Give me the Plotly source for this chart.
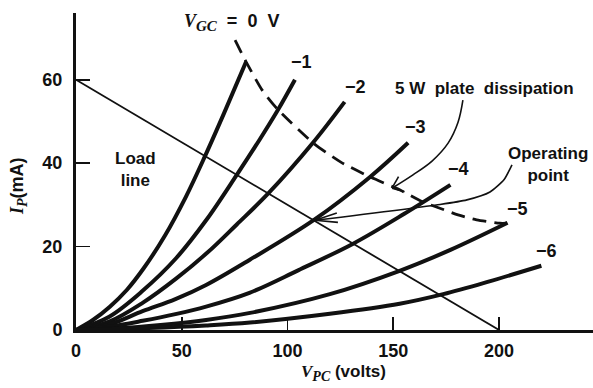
import plotly.graph_objects as go

# ---------------- data ----------------
# plate characteristic curves: plate voltage V_PC (V) -> plate current I_P (mA)
v_g0 = [0, 8, 16, 24, 32, 42, 52, 61, 70, 80.4]
i_g0 = [0, 2.4, 5.6, 9.6, 14.8, 22.6, 32.0, 41.7, 52.0, 64.3]

v_g1 = [0, 15.7, 31.5, 47.3, 61.5, 76, 87, 95.5, 103.5]
i_g1 = [0, 3.2, 9.4, 17.2, 26.3, 37.2, 45.8, 52.8, 60.0]

v_g2 = [0, 15.7, 31.5, 47.3, 62, 76, 91, 112, 127]
i_g2 = [0, 2.0, 6.5, 12.3, 18.5, 25.3, 32.8, 44.9, 54.7]

v_g3 = [0, 15.7, 31.5, 47, 61.5, 82, 112.5, 139, 157]
i_g3 = [0, 1.3, 4.5, 7.4, 10.8, 16.8, 26.4, 36.7, 44.9]

v_g4 = [0, 15.7, 31.5, 47, 61.5, 82, 105, 131, 155, 177]
i_g4 = [0, 0.8, 2.2, 3.8, 5.6, 8.9, 14.3, 20.7, 27.8, 34.8]

v_g5 = [0, 20, 40, 61.5, 82.3, 120, 153, 177, 204]
i_g5 = [0, 0.4, 1.2, 2.4, 4.1, 8.6, 14.2, 19.2, 25.7]

v_g6 = [0, 30, 61.5, 82.3, 120, 153, 173.6, 195, 220]
i_g6 = [0, 0.4, 1.1, 1.8, 3.9, 6.3, 8.6, 11.6, 15.4]

curve_v = [v_g0, v_g1, v_g2, v_g3, v_g4, v_g5, v_g6]
curve_i = [i_g0, i_g1, i_g2, i_g3, i_g4, i_g5, i_g6]
grid_labels = ["", "\u22121", "\u22122", "\u22123", "\u22124", "\u22125", "\u22126"]
label_v = [None, 106.8, 131.9, 160.3, 180.6, 208.5, 222.2]
label_i = [None, 64.3, 58.3, 48.7, 38.6, 29.0, 18.9]

# 5 W plate dissipation (dashed)
v_diss = [75.2, 80.4, 88, 95.5, 112, 125, 139, 153, 163.5, 172, 180.6, 189.4, 200.4, 203.6]
i_diss = [69.5, 64.3, 57.5, 52.8, 44.9, 40.3, 36.7, 33.6, 30.8, 29.2, 27.6, 26.4, 25.6, 25.6]

# load line
v_load = [0, 200]
i_load = [60, 0]

# operating point
v_op, i_op = 113.0, 26.3

# arrow paths (data units)
arrow_diss_v = [182.9, 180.6, 175.9, 168.3, 159.3, 149.4]
arrow_diss_i = [55.1, 49.8, 44.8, 40.5, 37.2, 34.0]
arrow_op_v = [206.1, 202.3, 195.7, 184.8, 172.1, v_op]
arrow_op_i = [39.6, 36.0, 33.1, 31.2, 30.1, i_op]

x_ticks = [0, 50, 100, 150, 200]
y_ticks = [0, 20, 40, 60]
x_max, y_max = 244.4, 76

# ---------------- layout geometry ----------------
W, H = 593, 388
ML, MR, MT, MB = 76, 0, 13, 58
PW, PH = W - ML - MR, H - MT - MB
sx = PW / x_max   # px per volt
sy = PH / y_max   # px per mA

FONT = "Liberation Sans, Arial, sans-serif"
INK = "#111111"

fig = go.Figure()

for v, i in zip(curve_v, curve_i):
    fig.add_trace(go.Scatter(x=v, y=i, mode="lines",
                             line=dict(color=INK, width=4, shape="spline", smoothing=1.0),
                             hoverinfo="skip", showlegend=False))

fig.add_trace(go.Scatter(x=v_load, y=i_load, mode="lines",
                         line=dict(color=INK, width=1.8), showlegend=False, hoverinfo="skip"))

fig.add_trace(go.Scatter(x=v_diss, y=i_diss, mode="lines",
                         line=dict(color=INK, width=2.8, dash="14px,8px", shape="spline", smoothing=0.6),
                         showlegend=False, hoverinfo="skip"))

fig.add_trace(go.Scatter(x=arrow_diss_v, y=arrow_diss_i, mode="lines",
                         line=dict(color=INK, width=1.6, shape="spline"),
                         showlegend=False, hoverinfo="skip"))
fig.add_trace(go.Scatter(x=arrow_op_v, y=arrow_op_i, mode="lines",
                         line=dict(color=INK, width=1.6, shape="spline", smoothing=0.6),
                         showlegend=False, hoverinfo="skip"))


def arrow_head(tip_v, tip_i, wings):
    """open V arrow head; wings given as (dx, dy) pixel offsets from tip"""
    xs, ys = [], []
    for dx, dy in wings:
        xs += [tip_v + dx / sx, tip_v, None]
        ys += [tip_i - dy / sy, tip_i, None]
    fig.add_trace(go.Scatter(x=xs, y=ys, mode="lines",
                             line=dict(color=INK, width=1.6),
                             showlegend=False, hoverinfo="skip"))


arrow_head(arrow_diss_v[-1], arrow_diss_i[-1], [(6.5, -11.5), (12.5, 3.5)])
arrow_head(arrow_op_v[-1], arrow_op_i[-1], [(21.8, -7.4), (22.9, 2.1)])

ann = []
for lab, lv, li in zip(grid_labels, label_v, label_i):
    if lab:
        ann.append(dict(x=lv, y=li, text=lab, showarrow=False,
                        font=dict(family=FONT, size=18, color=INK, weight="bold"),
                        xanchor="center", yanchor="middle"))

SERIF = "font-family:'Liberation Serif', 'Times New Roman', serif"
ann += [
    dict(x=73.5, y=73.8, showarrow=False, xanchor="center", yanchor="middle",
         text=(f"<i><span style=\"{SERIF}\">V</span><sub><span style=\"{SERIF};font-size:15px\">GC</span></sub></i>"
               "  =  0  V"),
         font=dict(family=FONT, size=18, color=INK, weight="bold")),
    dict(x=192.9, y=58.0, showarrow=False, xanchor="center", yanchor="middle",
         text="5 W  plate  dissipation",
         font=dict(family=FONT, size=17, color=INK, weight="bold")),
    dict(x=223.1, y=39.7, showarrow=False, xanchor="center", yanchor="middle",
         text="Operating<br>point",
         font=dict(family=FONT, size=17, color=INK, weight="bold")),
    dict(x=27.9, y=38.4, showarrow=False, xanchor="center", yanchor="middle",
         text="Load<br>line",
         font=dict(family=FONT, size=17, color=INK, weight="bold")),
    dict(x=(343 - ML) / PW, y=(PH + MT - 373) / PH, xref="paper", yref="paper",
         showarrow=False, xanchor="center", yanchor="middle",
         text=f"<i><span style=\"{SERIF}\">V</span><sub><span style=\"{SERIF};font-size:14px\">PC</span></sub></i> (volts)",
         font=dict(family=FONT, size=17, color=INK, weight="bold")),
    dict(x=(19 - ML) / PW, y=(PH + MT - 186) / PH, xref="paper", yref="paper",
         showarrow=False, xanchor="center", yanchor="middle", textangle=-90,
         text=f"<i><span style=\"{SERIF}\">I</span><sub><span style=\"{SERIF};font-size:14px\">P</span></sub></i>(mA)",
         font=dict(family=FONT, size=18, color=INK, weight="bold")),
]

fig.update_layout(
    width=W, height=H,
    margin=dict(l=ML, r=MR, t=MT, b=MB, pad=0),
    paper_bgcolor="white", plot_bgcolor="white",
    showlegend=False,
    annotations=ann,
    xaxis=dict(range=[0, x_max], tickvals=x_ticks, ticktext=[str(t) for t in x_ticks],
               showgrid=False, zeroline=False, showline=True, linecolor=INK, linewidth=2.5,
               ticks="inside", ticklen=13, tickwidth=1.8, tickcolor=INK,
               ticklabelstandoff=3, automargin=False,
               tickfont=dict(family=FONT, size=18, color=INK, weight="bold")),
    yaxis=dict(range=[0, y_max], tickvals=y_ticks, ticktext=[str(t) for t in y_ticks],
               showgrid=False, zeroline=False, showline=True, linecolor=INK, linewidth=3,
               ticks="inside", ticklen=14, tickwidth=1.8, tickcolor=INK,
               ticklabelstandoff=7, automargin=False,
               tickfont=dict(family=FONT, size=18, color=INK, weight="bold")),
)

fig.write_html("out.html",
               config={"displayModeBar": False, "staticPlot": True},
               post_script="document.body.style.margin='0';document.body.style.padding='0';")
